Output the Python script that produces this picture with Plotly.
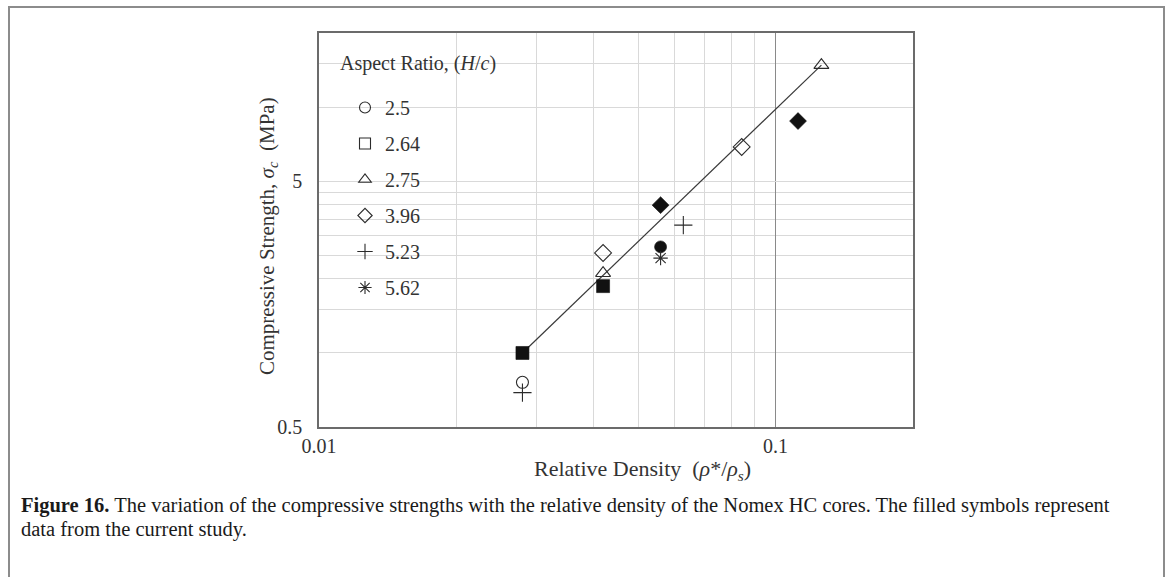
import plotly.graph_objects as go

# Aspect ratios (H/c) and their marker symbols
ratios = ["2.5", "2.64", "2.75", "3.96", "5.23", "5.62"]
symbols = ["circle", "square", "triangle-up", "diamond", "cross-thin", "asterisk"]

# Literature data (open symbols): relative density, compressive strength (MPa)
lit_density = {
    "2.5": [0.0279],
    "2.64": [],
    "2.75": [0.0419, 0.126],
    "3.96": [0.0419, 0.0843],
    "5.23": [0.0279, 0.0628],
    "5.62": [0.0560],
}
lit_strength = {
    "2.5": [0.76],
    "2.64": [],
    "2.75": [2.11, 14.8],
    "3.96": [2.55, 6.88],
    "5.23": [0.69, 3.31],
    "5.62": [2.43],
}

# Current study (filled symbols)
cur_density = {
    "2.5": [0.0560],
    "2.64": [0.0279, 0.0419],
    "3.96": [0.0560, 0.112],
}
cur_strength = {
    "2.5": [2.70],
    "2.64": [1.0, 1.87],
    "3.96": [3.99, 8.77],
}

# Power-law trend line end points
trend_density = [0.0279, 0.126]
trend_strength = [1.0, 14.8]

# Axis ticks
x_major = [0.01, 0.1]
x_minor = [0.02, 0.03, 0.04, 0.05, 0.06, 0.07, 0.08, 0.09]
y_major = [0.5, 5]
y_minor = [1, 1.5, 2, 2.5, 3, 3.5, 4, 4.5, 10, 15]

W, H = 1169, 577
L, R, T, B = 319, 913, 33, 427
SERIF = "Liberation Serif"
INK = "#333333"
OPEN_SIZE = {"triangle-up": 13, "diamond": 13, "cross-thin": 13, "asterisk": 12}
FILLED_SIZE = {"square": 13, "diamond": 13, "circle": 12}


def px(x):
    return (x - L) / (R - L)


def py(y):
    return (B - y) / (B - T)


fig = go.Figure()

# trend line
fig.add_trace(go.Scatter(
    x=trend_density, y=trend_strength, mode="lines",
    line=dict(color="#3a3a3a", width=1.2), showlegend=False, hoverinfo="skip"))

for r, s in zip(ratios, symbols):
    if lit_density.get(r):
        fig.add_trace(go.Scatter(
            x=lit_density[r], y=lit_strength[r], mode="markers",
            marker=dict(symbol=s + "-open", size=OPEN_SIZE.get(s, 12), color="#2b2b2b",
                        line=dict(width=1.1, color="#2b2b2b")),
            showlegend=False))
    if cur_density.get(r):
        fig.add_trace(go.Scatter(
            x=cur_density[r], y=cur_strength[r], mode="markers",
            marker=dict(symbol=s, size=FILLED_SIZE.get(s, 12), color="#111111",
                        line=dict(width=0.6, color="#111111")),
            showlegend=False))

# legend entries (open symbols)
for i, (r, s) in enumerate(zip(ratios, symbols)):
    fig.add_trace(go.Scatter(
        x=[None], y=[None], mode="markers", name=r, legendgroup="g%d" % i,
        marker=dict(symbol=s + "-open", size=11, color="#2b2b2b",
                    line=dict(width=1.1, color="#2b2b2b"))))

grid_minor = "#d9d9d9"

fig.update_xaxes(
    type="log", range=[-2, -0.69897],
    tickvals=x_major, ticktext=["0.01", "0.1"], ticks="",
    showgrid=True, gridcolor="#8a8a8a", gridwidth=1,
    minor=dict(tickvals=x_minor, showgrid=True, gridcolor=grid_minor, gridwidth=1),
    showline=True, linecolor="#6b6b6b", linewidth=1.5, mirror=True,
    tickfont=dict(family=SERIF, size=20, color=INK), ticklabelstandoff=0,
    zeroline=False)
fig.update_yaxes(
    type="log", range=[-0.30103, 1.30103],
    tickvals=y_major, ticktext=["0.5", "5"], ticks="",
    showgrid=True, gridcolor=grid_minor, gridwidth=1,
    minor=dict(tickvals=y_minor, showgrid=True, gridcolor=grid_minor, gridwidth=1),
    showline=True, linecolor="#6b6b6b", linewidth=1.5, mirror=True,
    tickfont=dict(family=SERIF, size=20, color=INK), ticklabelstandoff=11,
    zeroline=False)

shapes = [
    # white panels behind the legend text
    dict(type="rect", xref="paper", yref="paper", layer="between",
         x0=px(333), x1=px(517), y0=py(87), y1=py(42),
         fillcolor="white", line=dict(width=0)),
    dict(type="rect", xref="paper", yref="paper", layer="between",
         x0=px(333), x1=px(445), y0=py(330), y1=py(87),
         fillcolor="white", line=dict(width=0)),
    # outer frame
    dict(type="rect", xref="paper", yref="paper", layer="above",
         x0=px(9), x1=px(1164), y0=py(590), y1=py(7),
         fillcolor="rgba(0,0,0,0)", line=dict(width=2, color="#8c8c8c")),
]

annotations = [
    dict(text="Aspect Ratio, (<i>H</i>/<i>c</i>)",
         x=px(338), y=py(64), xref="paper", yref="paper", showarrow=False,
         font=dict(family=SERIF, size=20, color=INK), xanchor="left", yanchor="middle"),
    dict(text="Relative Density\u00a0\u00a0(<i>ρ</i>*/<i>ρ<sub>s</sub></i>)",
         x=px(642), y=py(470), xref="paper", yref="paper", showarrow=False,
         font=dict(family=SERIF, size=22, color=INK), xanchor="center", yanchor="middle"),
    dict(text="Compressive Strength, <i>σ<sub>c</sub></i>\u00a0\u00a0(MPa)",
         x=px(268), y=py(236), xref="paper", yref="paper", showarrow=False, textangle=-90,
         font=dict(family=SERIF, size=21, color=INK), xanchor="center", yanchor="middle"),
    dict(text="<b>Figure 16.</b> The variation of the compressive strengths with the relative "
              "density of the Nomex HC cores. The filled symbols represent",
         x=px(19), y=py(505), xref="paper", yref="paper", showarrow=False,
         font=dict(family=SERIF, size=20.5, color="#1a1a1a"), xanchor="left", yanchor="middle"),
    dict(text="data from the current study.",
         x=px(19), y=py(529), xref="paper", yref="paper", showarrow=False,
         font=dict(family=SERIF, size=20.5, color="#1a1a1a"), xanchor="left", yanchor="middle"),
]

fig.update_layout(
    width=W, height=H,
    margin=dict(l=L, r=W - R, t=T, b=H - B),
    paper_bgcolor="white", plot_bgcolor="white",
    shapes=shapes, annotations=annotations,
    legend=dict(
        font=dict(family=SERIF, size=20, color=INK),
        x=px(345), y=py(88), xanchor="left", yanchor="top",
        bgcolor="rgba(0,0,0,0)", borderwidth=0,
        tracegroupgap=7, itemwidth=30,
    ),
)

fig.write_html("out.html")
